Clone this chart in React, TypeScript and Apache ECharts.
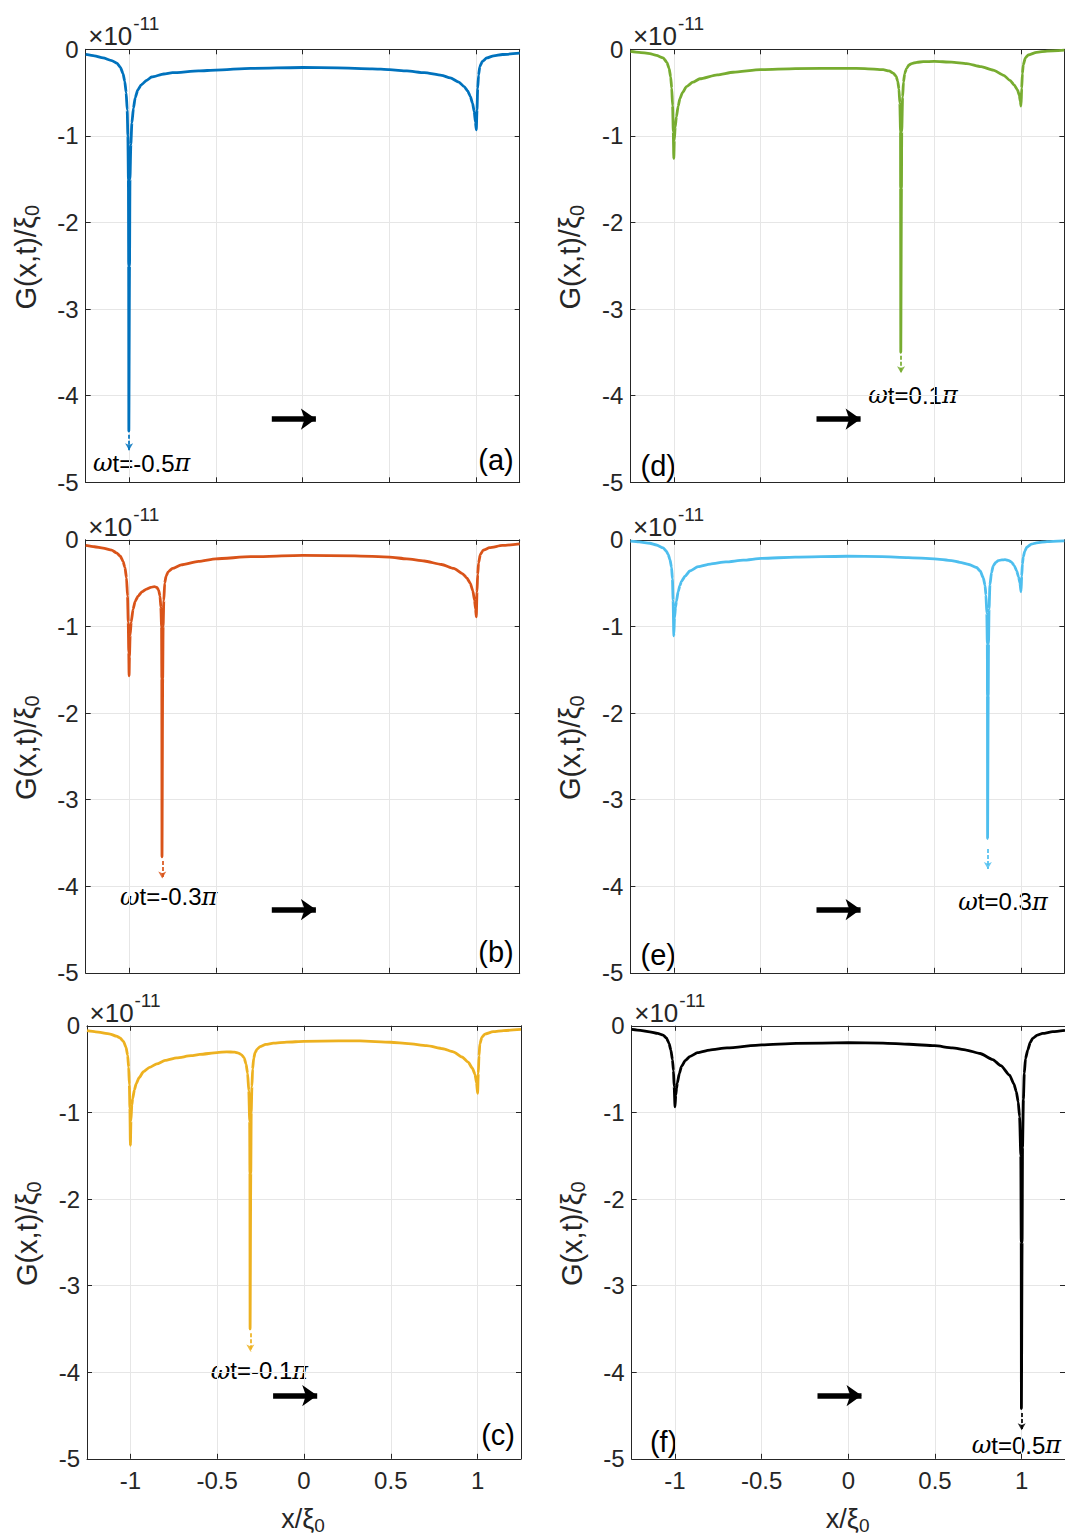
import React, { useEffect, useRef } from "react";
import * as echarts from "echarts";

// ---------- data ----------
const curveA: [number, number][] = [
  [-1.25, -0.06], [-1.2, -0.075], [-1.15, -0.1], [-1.1, -0.13], [-1.07, -0.16], [-1.05, -0.21],
  [-1.035, -0.28], [-1.025, -0.37], [-1.017, -0.5], [-1.011, -0.7], [-1.007, -1.0], [-1.004, -1.5],
  [-1.0025, -2.5], [-1.0015, -4.41], [-0.9985, -4.41], [-0.9975, -2.5], [-0.995, -1.5],
  [-0.99, -1.1], [-0.984, -0.85], [-0.975, -0.68], [-0.965, -0.56], [-0.95, -0.47], [-0.93, -0.41],
  [-0.9, -0.36], [-0.87, -0.32], [-0.8, -0.285], [-0.75, -0.27], [-0.6, -0.25], [-0.5, -0.24],
  [-0.3, -0.22], [0, -0.21], [0.2, -0.215], [0.4, -0.225], [0.5, -0.235], [0.6, -0.25], [0.7, -0.27],
  [0.8, -0.3], [0.85, -0.33], [0.9, -0.38], [0.93, -0.43], [0.95, -0.48], [0.965, -0.54], [0.978, -0.62],
  [0.988, -0.72], [0.995, -0.84], [1.0, -0.93], [1.004, -0.7], [1.008, -0.45], [1.013, -0.3],
  [1.02, -0.2], [1.035, -0.14], [1.06, -0.1], [1.1, -0.075], [1.15, -0.06], [1.25, -0.045],
];

const curveB: [number, number][] = [
  [-1.25, -0.065], [-1.2, -0.08], [-1.15, -0.096], [-1.1, -0.12], [-1.073, -0.15], [-1.05, -0.19],
  [-1.035, -0.25], [-1.024, -0.32], [-1.015, -0.44], [-1.009, -0.65], [-1.005, -0.95], [-1.002, -1.3],
  [-1.0, -1.57], [-0.998, -1.35], [-0.994, -1.1], [-0.988, -0.95], [-0.977, -0.8], [-0.965, -0.71],
  [-0.948, -0.65], [-0.925, -0.6], [-0.9, -0.57], [-0.875, -0.55], [-0.855, -0.54], [-0.84, -0.55],
  [-0.83, -0.58], [-0.822, -0.65], [-0.817, -0.78], [-0.813, -1.0], [-0.8115, -1.6],
  [-0.8105, -3.66], [-0.8075, -3.66], [-0.8065, -1.6], [-0.804, -1.0], [-0.8, -0.7], [-0.795, -0.5],
  [-0.787, -0.42], [-0.775, -0.37], [-0.75, -0.33], [-0.7, -0.29], [-0.6, -0.25], [-0.5, -0.22],
  [-0.3, -0.195], [0, -0.18], [0.3, -0.185], [0.5, -0.2], [0.6, -0.22], [0.7, -0.245], [0.8, -0.285],
  [0.87, -0.33], [0.92, -0.39], [0.945, -0.44], [0.965, -0.5], [0.98, -0.59], [0.99, -0.7],
  [0.996, -0.8], [1.0, -0.89], [1.004, -0.6], [1.008, -0.4], [1.013, -0.27], [1.023, -0.17],
  [1.04, -0.12], [1.077, -0.09], [1.15, -0.065], [1.25, -0.046],
];

const curveC: [number, number][] = [
  [-1.25, -0.057], [-1.2, -0.07], [-1.117, -0.095], [-1.08, -0.12], [-1.06, -0.14], [-1.04, -0.18],
  [-1.025, -0.25], [-1.016, -0.34], [-1.01, -0.48], [-1.006, -0.68], [-1.003, -0.95], [-1.0, -1.38],
  [-0.997, -1.1], [-0.992, -0.92], [-0.987, -0.84], [-0.977, -0.74], [-0.967, -0.67], [-0.95, -0.6],
  [-0.925, -0.53], [-0.89, -0.48], [-0.848, -0.44], [-0.8, -0.4], [-0.733, -0.37], [-0.65, -0.345],
  [-0.6, -0.33], [-0.5, -0.31], [-0.445, -0.3], [-0.4, -0.305], [-0.378, -0.315], [-0.36, -0.335],
  [-0.345, -0.37], [-0.334, -0.44], [-0.325, -0.55], [-0.318, -0.75], [-0.313, -1.1], [-0.3115, -1.7],
  [-0.3105, -3.5], [-0.3075, -3.5], [-0.3065, -1.7], [-0.304, -1.0], [-0.3, -0.7],
  [-0.296, -0.5], [-0.29, -0.38], [-0.282, -0.31], [-0.27, -0.27], [-0.253, -0.24], [-0.22, -0.215],
  [-0.177, -0.2], [-0.1, -0.188], [0, -0.18], [0.2, -0.175], [0.322, -0.175], [0.5, -0.19],
  [0.6, -0.205], [0.706, -0.23], [0.8, -0.265], [0.86, -0.3], [0.91, -0.36], [0.946, -0.42],
  [0.97, -0.49], [0.985, -0.56], [0.994, -0.66], [1.0, -0.78], [1.004, -0.55], [1.008, -0.35],
  [1.013, -0.21], [1.025, -0.13], [1.042, -0.095], [1.09, -0.068], [1.15, -0.055], [1.25, -0.042],
];

const curveD: [number, number][] = [
  [-1.25, -0.025], [-1.2, -0.035], [-1.138, -0.05], [-1.1, -0.07], [-1.061, -0.1], [-1.04, -0.15],
  [-1.027, -0.22], [-1.018, -0.32], [-1.012, -0.45], [-1.007, -0.65], [-1.003, -0.95], [-1.0, -1.26],
  [-0.997, -1.05], [-0.992, -0.9], [-0.985, -0.78], [-0.975, -0.66], [-0.965, -0.57], [-0.95, -0.5],
  [-0.927, -0.43], [-0.89, -0.38], [-0.85, -0.34], [-0.75, -0.295], [-0.658, -0.265], [-0.5, -0.235],
  [-0.3, -0.222], [0, -0.22], [0.1, -0.222], [0.206, -0.235], [0.24, -0.25], [0.264, -0.275],
  [0.28, -0.31], [0.29, -0.37], [0.297, -0.46], [0.302, -0.62], [0.306, -0.95], [0.3065, -1.6],
  [0.3075, -3.5], [0.3105, -3.5], [0.3115, -1.6], [0.313, -0.95], [0.318, -0.55],
  [0.323, -0.38], [0.33, -0.28], [0.341, -0.22], [0.355, -0.18], [0.37, -0.165], [0.4, -0.15],
  [0.437, -0.143], [0.5, -0.14], [0.6, -0.148], [0.687, -0.165], [0.77, -0.2], [0.84, -0.24],
  [0.9, -0.3], [0.937, -0.36], [0.96, -0.41], [0.98, -0.47], [0.99, -0.53], [0.996, -0.6],
  [1.0, -0.655], [1.004, -0.45], [1.008, -0.28], [1.013, -0.18], [1.025, -0.1], [1.042, -0.066],
  [1.09, -0.035], [1.15, -0.02], [1.25, -0.01],
];

const curveE: [number, number][] = [
  [-1.25, -0.016], [-1.2, -0.025], [-1.138, -0.04], [-1.1, -0.06], [-1.061, -0.094], [-1.045, -0.125],
  [-1.033, -0.165], [-1.022, -0.23], [-1.013, -0.32], [-1.008, -0.45], [-1.004, -0.7], [-1.0, -1.11],
  [-0.996, -0.9], [-0.99, -0.78], [-0.985, -0.71], [-0.975, -0.6], [-0.965, -0.53], [-0.956, -0.48],
  [-0.935, -0.42], [-0.908, -0.36], [-0.86, -0.31], [-0.79, -0.28], [-0.7, -0.255], [-0.6, -0.235],
  [-0.495, -0.215], [-0.3, -0.2], [0, -0.19], [0.2, -0.195], [0.35, -0.205], [0.5, -0.22],
  [0.6, -0.24], [0.648, -0.26], [0.7, -0.285], [0.744, -0.32], [0.765, -0.36], [0.783, -0.44],
  [0.793, -0.53], [0.798, -0.64], [0.803, -0.85], [0.806, -1.2], [0.8068, -1.8],
  [0.8075, -3.45], [0.8105, -3.45], [0.8112, -1.8], [0.813, -1.2], [0.816, -0.8], [0.821, -0.52],
  [0.83, -0.38], [0.84, -0.3], [0.855, -0.26], [0.869, -0.24], [0.89, -0.232], [0.908, -0.23],
  [0.93, -0.24], [0.946, -0.26], [0.962, -0.3], [0.975, -0.36], [0.986, -0.43], [0.994, -0.5],
  [1.0, -0.6], [1.004, -0.42], [1.008, -0.28], [1.013, -0.2], [1.022, -0.13], [1.033, -0.086],
  [1.06, -0.05], [1.09, -0.035], [1.15, -0.02], [1.25, -0.012],
];

const curveF: [number, number][] = [
  [-1.25, -0.042], [-1.2, -0.052], [-1.146, -0.069], [-1.1, -0.088], [-1.069, -0.107], [-1.05, -0.14],
  [-1.035, -0.2], [-1.024, -0.28], [-1.015, -0.39], [-1.009, -0.52], [-1.005, -0.7], [-1.0, -0.935],
  [-0.996, -0.8], [-0.991, -0.72], [-0.987, -0.66], [-0.975, -0.55], [-0.963, -0.47], [-0.94, -0.4],
  [-0.915, -0.355], [-0.87, -0.31], [-0.8, -0.28], [-0.7, -0.255], [-0.5, -0.22], [-0.3, -0.203],
  [0, -0.195], [0.2, -0.2], [0.35, -0.213], [0.497, -0.23], [0.6, -0.255], [0.68, -0.28],
  [0.76, -0.32], [0.833, -0.39], [0.88, -0.46], [0.93, -0.57], [0.955, -0.67], [0.969, -0.76],
  [0.98, -0.88], [0.988, -1.05], [0.995, -1.5], [0.9975, -2.5],
  [0.9985, -4.42], [1.0015, -4.42], [1.0025, -2.5], [1.005, -1.4], [1.01, -0.85], [1.015, -0.55], [1.022, -0.38],
  [1.035, -0.28], [1.05, -0.19], [1.063, -0.145], [1.09, -0.108], [1.121, -0.088], [1.18, -0.068],
  [1.25, -0.052],
];

const curves = [curveA, curveB, curveC, curveD, curveE, curveF];
const panelColors = ["#0072BD", "#D95319", "#EDB120", "#77AC30", "#4DBEEE", "#000000"];
const panelLetters = ["(a)", "(b)", "(c)", "(d)", "(e)", "(f)"];
const omegaValues = ["-0.5", "-0.3", "-0.1", "0.1", "0.3", "0.5"];
const dipX = [-1, -0.809, -0.309, 0.309, 0.809, 1];
const dipArrowStart = [-4.45, -3.71, -3.55, -3.54, -3.57, -4.47];
const dipArrowTip = [-4.63, -3.91, -3.76, -3.74, -3.8, -4.67];
const motionArrowX = [-0.178, 0.076];
const motionArrowY = -4.27;
const xTickMin = -1.25;
const xTickMax = 1.25;
const yTickMin = -5;
const yTickMax = 0;

// ---------- layout ----------
const GRID_LEFT = [
  [85.7, 85.7, 87],
  [630.4, 630.4, 631.7],
];
const ROW_TOP = [49.3, 539.8, 1025.8];
const PLOT_W = 434;
const PLOT_H = 433;
const AX = "#262626";
const GRIDC = "#e6e6e6";
const FONT = '"Liberation Sans", Arial, Helvetica, sans-serif';
const MATH = '"DejaVu Serif", "Liberation Serif", serif';

// annotation text anchors (pixel, left edge / vertical centre)
const omegaPos: [number, number][] = [
  [93, 463], [120, 896.7], [210.7, 1370.7], [868.3, 395], [958.3, 901.7], [971.7, 1445],
];
const letterY = [[460, 951.7, 1435], [466, 955, 1441.7]];

function buildOption() {
  const grid: any[] = [];
  const xAxis: any[] = [];
  const yAxis: any[] = [];
  const series: any[] = [];
  const graphic: any[] = [];

  curves.forEach((curve, i) => {
    const col = Math.floor(i / 3);
    const row = i % 3;
    const left = GRID_LEFT[col][row];
    const top = ROW_TOP[row];
    grid.push({ left, top, width: PLOT_W, height: PLOT_H });

    const axisLine = { show: true, onZero: false, lineStyle: { color: AX, width: 1 } };
    const axisTick = { show: true, inside: true, length: 5, lineStyle: { color: AX, width: 1 } };

    xAxis.push({
      type: "value", gridIndex: i, min: xTickMin, max: xTickMax, splitNumber: 5, position: "bottom",
      axisLine, axisTick,
      axisLabel: {
        show: row === 2, showMinLabel: false, showMaxLabel: false, margin: 10,
        fontSize: 24, color: AX, fontFamily: FONT,
      },
      splitLine: { show: true, lineStyle: { color: GRIDC, width: 1 } },
    });
    xAxis.push({
      type: "value", gridIndex: i, min: xTickMin, max: xTickMax, splitNumber: 5, position: "top",
      axisLine, axisTick, axisLabel: { show: false }, splitLine: { show: false },
    });
    yAxis.push({
      type: "value", gridIndex: i, min: yTickMin, max: yTickMax, interval: 1, position: "left",
      axisLine, axisTick,
      axisLabel: { show: true, margin: 7, fontSize: 24, color: AX, fontFamily: FONT },
      splitLine: { show: true, lineStyle: { color: GRIDC, width: 1 } },
    });
    yAxis.push({
      type: "value", gridIndex: i, min: yTickMin, max: yTickMax, interval: 1, position: "right",
      axisLine, axisTick, axisLabel: { show: false }, splitLine: { show: false },
    });

    const color = panelColors[i];
    series.push({
      type: "line",
      xAxisIndex: 2 * i,
      yAxisIndex: 2 * i,
      data: curve,
      symbol: "none",
      showSymbol: false,
      smooth: 0.2,
      smoothMonotone: "x",
      lineStyle: { color, width: 2.8, join: "round" },
      silent: true,
      z: 3,
      markLine: {
        silent: true,
        animation: false,
        symbol: ["none", "arrow"],
        label: { show: false },
        emphasis: { disabled: true },
        data: [
          [
            { coord: [motionArrowX[0], motionArrowY], symbol: "none", lineStyle: { color: "#000", width: 5.5, type: "solid" } },
            { coord: [motionArrowX[1], motionArrowY], symbol: "arrow", symbolSize: [16, 15] },
          ],
          [
            { coord: [dipX[i], dipArrowStart[i]], symbol: "none", lineStyle: { color, width: 2, type: [4, 2], opacity: 0.85 } },
            { coord: [dipX[i], dipArrowTip[i]], symbol: "arrow", symbolSize: [6, 7] },
          ],
        ],
      },
    });

    // exponent label
    graphic.push({
      type: "text", x: left + 2.5, y: top - 13.3,
      style: { text: "×10", fill: AX, fontSize: 26, fontFamily: FONT, textAlign: "left", textVerticalAlign: "middle", align: "left", verticalAlign: "middle" },
    });
    graphic.push({
      type: "text", x: left + 47.5, y: top - 25.5,
      style: { text: "-11", fill: AX, fontSize: 19, fontFamily: FONT, textAlign: "left", textVerticalAlign: "middle", align: "left", verticalAlign: "middle" },
    });

    // y-axis name
    const yc = top + 208;
    graphic.push({
      type: "text", x: left - 60, y: yc, rotation: Math.PI / 2,
      style: {
        text: "{m|G(x,t)/ξ}{s|0}",
        rich: {
          m: { fontSize: 29, fontFamily: FONT, fill: AX },
          s: { fontSize: 20, fontFamily: FONT, fill: AX, padding: [13, 0, 0, 0] },
        },
        textAlign: "center", textVerticalAlign: "middle", align: "center", verticalAlign: "middle",
      },
    });

    // panel letter
    const lx = col === 0 ? left + PLOT_W - 6 : left + 45.6;
    graphic.push({
      type: "text", x: lx, y: letterY[col][row],
      style: { text: panelLetters[i], fill: "#000", fontSize: 29, fontFamily: FONT, textAlign: "right", textVerticalAlign: "middle", align: "right", verticalAlign: "middle" },
    });

    // omega-t label
    const [ox, oy] = omegaPos[i];
    graphic.push({
      type: "text", x: ox, y: oy,
      style: {
        text: `{i|ω}{n|t=${omegaValues[i]}}{i|π}`,
        rich: {
          i: { fontSize: 24, fontFamily: MATH, fontStyle: "italic", fill: "#000" },
          n: { fontSize: 24, fontFamily: FONT, fill: "#000" },
        },
        textAlign: "left", textVerticalAlign: "middle", align: "left", verticalAlign: "middle",
      },
    });

    // x-axis name (bottom row)
    if (row === 2) {
      graphic.push({
        type: "text", x: left + PLOT_W / 2 - 1, y: 1519,
        style: {
          text: "{m|x/ξ}{s|0}",
          rich: {
            m: { fontSize: 27, fontFamily: FONT, fill: AX },
            s: { fontSize: 19, fontFamily: FONT, fill: AX, padding: [12, 0, 0, 0] },
          },
          textAlign: "center", textVerticalAlign: "middle", align: "center", verticalAlign: "middle",
        },
      });
    }
  });

  return {
    animation: false,
    backgroundColor: "#ffffff",
    grid,
    xAxis,
    yAxis,
    series,
    graphic: { elements: graphic },
  };
}

export default function App() {
  const ref = useRef<HTMLDivElement>(null);
  useEffect(() => {
    if (!ref.current) return;
    const chart = echarts.init(ref.current, undefined, { renderer: "svg", width: 1065, height: 1539 });
    chart.setOption(buildOption() as any);
    return () => chart.dispose();
  }, []);
  return (
    <div
      ref={ref}
      style={{ position: "absolute", left: 0, top: 0, width: 1065, height: 1539, background: "#fff" }}
    />
  );
}
